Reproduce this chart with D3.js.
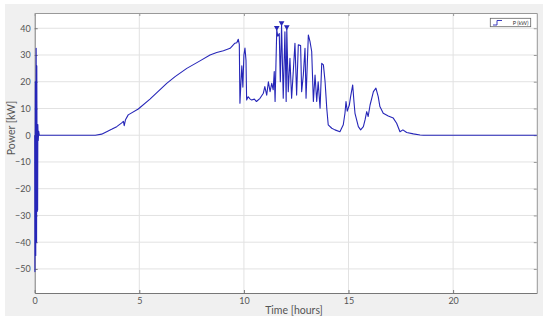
<!DOCTYPE html>
<html>
<head>
<meta charset="utf-8">
<style>
body { margin: 0; background: #fff; }
text { font-family: Lato, "Open Sans", sans-serif; }
</style>
</head>
<body>
<script src="https://d3js.org/d3.v7.min.js"></script>
<svg id="chart" width="550" height="321"></svg>
<script>
// time in hours, power in kW
const hours = [0, 0.01, 0.03, 0.05, 0.07, 0.09, 0.1, 0.12, 0.13, 0.14, 0.15, 0.17, 0.19, 0.22,
    1.0, 2.0, 2.9, 3.2, 3.44, 3.7, 3.92, 4.16, 4.24, 4.28, 4.34, 4.47, 4.95, 5.51, 6.31, 6.71, 7.27, 7.9,
    8.38, 8.7, 9.02, 9.34, 9.57, 9.66, 9.73,
    9.78, 9.81, 9.86, 9.9, 9.95, 10.0, 10.05, 10.1, 10.13, 10.2, 10.3, 10.37, 10.5, 10.6, 10.77, 10.93,
    11.0, 11.09, 11.17, 11.25, 11.33, 11.4, 11.45, 11.49, 11.57, 11.62, 11.69, 11.74, 11.8, 11.88, 11.96,
    12.02, 12.05, 12.12, 12.2, 12.28, 12.36, 12.44, 12.52, 12.6, 12.71, 12.76, 12.84, 12.92, 12.97,
    13.08, 13.16, 13.24, 13.32, 13.4, 13.48, 13.55, 13.64, 13.72, 13.8, 13.88, 13.96, 14.03, 14.2,
    14.35, 14.59, 14.75, 14.83, 14.88, 14.94, 15.04, 15.1, 15.2, 15.26, 15.31, 15.47, 15.58, 15.71,
    15.79, 15.87, 15.94, 16.03, 16.11, 16.19, 16.31, 16.42, 16.5, 16.66, 16.9, 17.14, 17.3, 17.46,
    17.6, 17.78, 18.1, 18.42, 18.58, 20, 22, 24]
const powerKW = [0, -51, 20, -45, 32.5, -40, 26, -28.5, 3, -28, 4, -2, 1.5, 0,
    0, 0, 0, 0.4, 1.3, 2.3, 3.2, 4.6, 5.2, 3.6, 5.8, 7.6, 9.8, 13.5, 19.4, 21.9, 25, 27.8,
    30, 30.9, 31.6, 32.5, 34.4, 34.6, 35.9,
    34, 12, 20, 26, 18, 30, 32.6, 28, 13.2, 14.4, 13.5, 13.2, 13.5, 12.6, 13.8, 15.7,
    18.2, 15, 20, 16.3, 19.4, 17, 23.8, 12.6, 39.4, 37, 38, 20, 41.2, 13.8, 38.7,
    12.6, 39.7, 16.3, 28.8, 13.8, 23.8, 34.4, 15, 33.8, 33.5, 16.3, 22.5, 32.5, 13.8,
    37.5, 35, 31.3, 12.6, 22.5, 12.6, 20, 10.1, 26.9, 26.3, 20, 10.1, 3.9, 2.6,
    2, 1.3, 3.9, 8.2, 12.6, 9, 11.3, 14.4, 18.8, 12.6, 8.2, 3.2, 2, 3.2,
    5.7, 8.8, 7, 11.3, 13.8, 16.3, 17.6, 14.4, 10.7, 8.2, 7.2, 6.4, 4.5, 1.3,
    2, 1, 0.5, 0.1, 0, 0, 0, 0]
// peak markers
const peakHours = [11.57, 11.8, 12.05]
const peakPower = [40.2, 42, 40.5]

const xTicks = [0, 5, 10, 15, 20]
const yTicks = [-50, -40, -30, -20, -10, 0, 10, 20, 30, 40]
const legendLabel = "P (kW)"

const lineColor = "#2626b8"
const svg = d3.select("#chart")

svg.append("rect").attr("x", 5).attr("y", 4).attr("width", 538).attr("height", 312)
    .attr("fill", "#f0f0f0")

const pLeft = 34.7, pRight = 536.8, pTop = 13, pBottom = 293
const x = d3.scaleLinear().domain([0, 24]).range([pLeft, pRight])
const y = d3.scaleLinear().domain([-59, 45.7]).range([pBottom, pTop])

svg.append("rect").attr("x", pLeft).attr("y", pTop)
    .attr("width", pRight - pLeft).attr("height", pBottom - pTop).attr("fill", "#fff")

// grid
const grid = svg.append("g").attr("stroke", "#e2e2e2").attr("stroke-width", 1)
grid.selectAll("line.vg").data(xTicks.slice(1)).enter().append("line")
    .attr("x1", d => x(d)).attr("x2", d => x(d)).attr("y1", pTop).attr("y2", pBottom)
grid.selectAll("line.hg").data(yTicks).enter().append("line")
    .attr("x1", pLeft).attr("x2", pRight).attr("y1", d => y(d)).attr("y2", d => y(d))

// axes, ticks pointing inward
function styleAxis(g, col) {
    g.select(".domain").attr("stroke", col)
    g.selectAll(".tick line").attr("stroke", col)
    g.selectAll(".tick text").attr("fill", "#555").style("font-size", "9px")
}
const xAxis = d3.axisBottom(x).tickValues(xTicks).tickSize(-3).tickSizeOuter(0).tickPadding(5)
svg.append("g").attr("transform", `translate(0,${pBottom})`).call(xAxis).call(g => styleAxis(g, "#777"))
const yAxis = d3.axisLeft(y).tickValues(yTicks).tickSize(-3).tickSizeOuter(0).tickPadding(4)
svg.append("g").attr("transform", `translate(${pLeft},0)`).call(yAxis).call(g => styleAxis(g, "#777"))
const xTop = d3.axisTop(x).tickValues(xTicks).tickSize(-3).tickSizeOuter(0).tickFormat("")
svg.append("g").attr("transform", `translate(0,${pTop})`).call(xTop).call(g => styleAxis(g, "#999"))
const yRight = d3.axisRight(y).tickValues(yTicks).tickSize(-3).tickSizeOuter(0).tickFormat("")
svg.append("g").attr("transform", `translate(${pRight},0)`).call(yRight).call(g => styleAxis(g, "#999"))

// trace
const data = hours.map((h, i) => ({ h: h, p: powerKW[i] }))
const line = d3.line().x(d => x(d.h)).y(d => y(d.p))
svg.append("path").attr("d", line(data)).attr("fill", "none")
    .attr("stroke", lineColor).attr("stroke-width", 1.1).attr("stroke-linejoin", "round")

const tri = d3.symbol().type(d3.symbolTriangle).size(14)
svg.selectAll("path.peak").data(peakHours).enter().append("path")
    .attr("class", "peak").attr("d", tri)
    .attr("transform", (d, i) => `translate(${x(d)},${y(peakPower[i])}) rotate(180)`)
    .attr("fill", lineColor)

// labels
svg.append("text").attr("x", 294).attr("y", 314).attr("text-anchor", "middle")
    .attr("fill", "#555").style("font-size", "10.5px").text("Time [hours]")
svg.append("text").attr("transform", "translate(15,128) rotate(-90)").attr("text-anchor", "middle")
    .attr("fill", "#555").style("font-size", "10.5px").text("Power [kW]")

// legend
const lg = svg.append("g")
lg.append("rect").attr("x", 490.3).attr("y", 18.3).attr("width", 40.4).attr("height", 8.4)
    .attr("fill", "#fff").attr("stroke", "#666").attr("stroke-width", 0.8)
const stepIcon = d3.line().curve(d3.curveStepAfter).x(d => d[0]).y(d => d[1])
lg.append("path").attr("d", stepIcon([[493, 25], [497, 20.5], [502, 20.5]]))
    .attr("fill", "none").attr("stroke", lineColor).attr("stroke-width", 0.9)
lg.append("text").attr("x", 528.5).attr("y", 24.8).attr("text-anchor", "end")
    .attr("fill", "#333").style("font-size", "5.5px").text(legendLabel)
</script>
</body>
</html>
